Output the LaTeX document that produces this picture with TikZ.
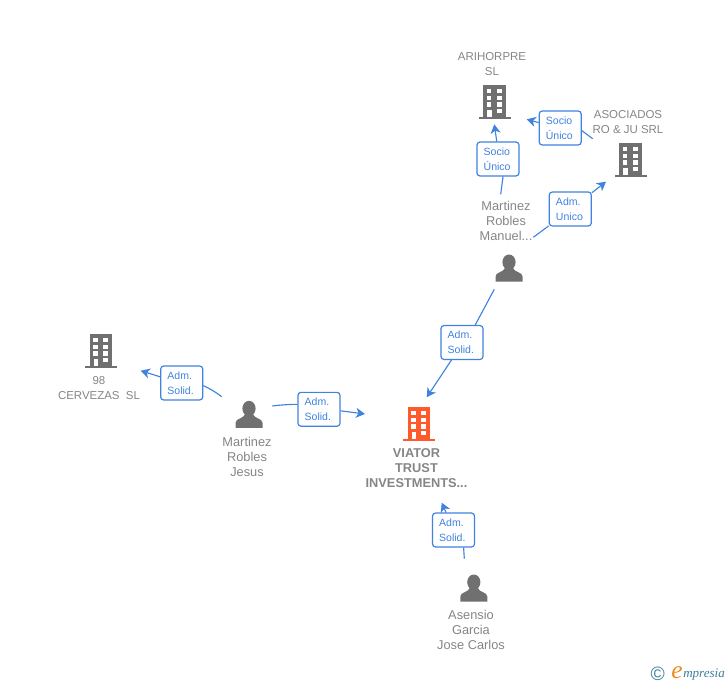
\documentclass[tikz,border=0pt]{standalone}
\usepackage{fontspec}
\setmainfont{Liberation Sans}
\newfontfamily\logofont{Liberation Serif}
\usetikzlibrary{arrows.meta}
\usetikzlibrary{positioning}
\definecolor{icongrey}{HTML}{707070}
\definecolor{labelgrey}{HTML}{858585}
\definecolor{viatororange}{HTML}{FF5A2B}
\definecolor{linkblue}{HTML}{3F82E0}
\definecolor{logoteal}{HTML}{3F7F9C}
\definecolor{logoorange}{HTML}{F08A1E}
\tikzset{
	building/.pic={
		\fill[#1] (-11.4,-17) rectangle (11.4,15);
		\fill[#1] (-16,14.7) rectangle (16,16.8);
		\fill[white] (-8,-12.7) rectangle (-3.4,-8.7);
		\fill[white] (2.4,-12.7) rectangle (7.3,-8.7);
		\fill[white] (-8,-6.3) rectangle (-3.4,-2);
		\fill[white] (2.4,-6.3) rectangle (7.3,-2);
		\fill[white] (-8,0.3) rectangle (-3.4,4.7);
		\fill[white] (2.4,0.3) rectangle (7.3,4.7);
		\fill[white] (-7.5,7.5) rectangle (-3,14.7);
		\fill[white] (2.4,7) rectangle (7.3,11.3);
	},
	person/.pic={
		\fill[icongrey] (0,-5.8) ellipse (6.6 and 7.7);
		\fill[icongrey] (-13.5,13.6) -- (-13.5,8.5) .. controls (-13.5,4) and (-5.5,4.5) .. (-4,0)
			-- (4,0) .. controls (5.5,4.5) and (13.5,4) .. (13.5,8.5) -- (13.5,13.6) -- cycle;
	},
	caption/.style={text=labelgrey, align=center, inner sep=0pt,
		font=\fontsize{9.6}{11.25}\selectfont},
	capscaption/.style={caption, font=\fontsize{8.6}{11.25}\selectfont},
	rolebox/.style={draw=linkblue, line width=0.9pt, fill=white, rounded corners=2.2pt,
		text=linkblue, align=left, text width=21.5pt, inner xsep=5pt, inner ysep=0pt,
		minimum height=25.4pt, font=\fontsize{7.9}{11.25}\selectfont},
	link/.style={draw=linkblue, line width=0.85pt},
	linkto/.style={link, -{Stealth[length=6.8pt, width=7.5pt, inset=2pt]}}
}
\begin{document}
\begin{tikzpicture}[x=0.75pt, y=-0.75pt]
	\useasboundingbox (0,0) rectangle (728,685);

	\pic at (494.7,102) {building=icongrey};
	\pic at (630.8,160) {building=icongrey};
	\pic at (101,351) {building=icongrey};
	\pic at (419,424) {building=viatororange};
	\pic at (509,268) {person};
	\pic at (249,414.3) {person};
	\pic at (473.8,588) {person};

	\begin{scope}[every node/.style={caption}]
		\node[capscaption] (arihorpre) at (492,64.3) {ARIHORPRE\\SL};
		\node[capscaption] (asociados) at (628,122.3) {ASOCIADOS\\RO \& JU SRL};
		\node (manuel) at (506,220.5) {Martinez\\Robles\\Manuel...};
		\node[capscaption] (cervezas) at (99,388) {98\\CERVEZAS\ \ SL};
		\node (jesus) at (247,457) {Martinez\\Robles\\Jesus};
		\node[font=\fontsize{9.6}{11.25}\selectfont\bfseries] (viator) at (416.5,468) {VIATOR\\TRUST\\INVESTMENTS...};
		\node (asensio) at (471,629.5) {Asensio\\Garcia\\Jose Carlos};
	\end{scope}

	\begin{scope}[every node/.style={rolebox}]
		\node (socioa) at (498,159) {Socio\\Único};
		\node (sociob) at (560.2,128) {Socio\\Único};
		\node (admunico) at (570.3,209) {Adm.\\Unico};
		\node (solida) at (462,342.5) {Adm.\\Solid.};
		\node (solidb) at (453.5,530) {Adm.\\Solid.};
		\node (solidc) at (181.7,383) {Adm.\\Solid.};
		\node (solidd) at (319,409.3) {Adm.\\Solid.};
	\end{scope}

	\coordinate (tailsocioa) at (500.7,194.3);
	\coordinate (tipsocioa) at (494.3,124.3);
	\coordinate (tailsociob) at (592.7,138.7);
	\coordinate (tipsociob) at (526.7,119.3);
	\coordinate (tailunico) at (533.3,237.3);
	\coordinate (tipunico) at (606,181.7);
	\coordinate (tailsolida) at (494.3,289.3);
	\coordinate (tipsolida) at (426.7,397.3);
	\coordinate (tailsolidb) at (464.3,558.7);
	\coordinate (tipsolidb) at (441.7,502.7);
	\coordinate (tailsolidc) at (221.7,396.7);
	\coordinate (tipsolidc) at (140.7,370.7);
	\coordinate (tailsolidd) at (272.3,406);
	\coordinate (tipsolidd) at (365,414);

	\draw[link] (tailsocioa) -- (socioa.-74);
	\draw[linkto] (socioa.94) -- (tipsocioa);
	\draw[link] (tailsociob) -- (sociob.-7);
	\draw[linkto] (sociob.166) -- (tipsociob);
	\draw[link] (tailunico) -- (admunico.218);
	\draw[linkto] (admunico.37) -- (tipunico);
	\draw[link] (tailsolida) -- (solida.53);
	\draw[linkto] (solida.239) -- (tipsolida);
	\draw[link] (tailsolidb) -- (solidb.-60);
	\draw[linkto] (solidb.113) -- (tipsolidb);
	\draw[link] (tailsolidc) to[bend right=6] (solidc.-7);
	\draw[linkto] (solidc.164) -- (tipsolidc);
	\draw[link] (tailsolidd) to[bend left=3] (solidd.167);
	\draw[linkto] (solidd.-4) -- (tipsolidd);

	\node[inner sep=0pt, text=logoteal, font=\fontsize{14.5}{15}\selectfont] (copyright) at (657.7,673.5) {©};
	\node[inner sep=0pt, text=logoorange, font=\logofont\itshape\fontsize{19}{19}\selectfont] (logoe) at (677,673) {e};
	\node[inner sep=0pt, text=logoteal, font=\logofont\itshape\fontsize{9.8}{11}\selectfont, anchor=west] (logorest) at (683,674.5) {mpresia};
\end{tikzpicture}
\end{document}
